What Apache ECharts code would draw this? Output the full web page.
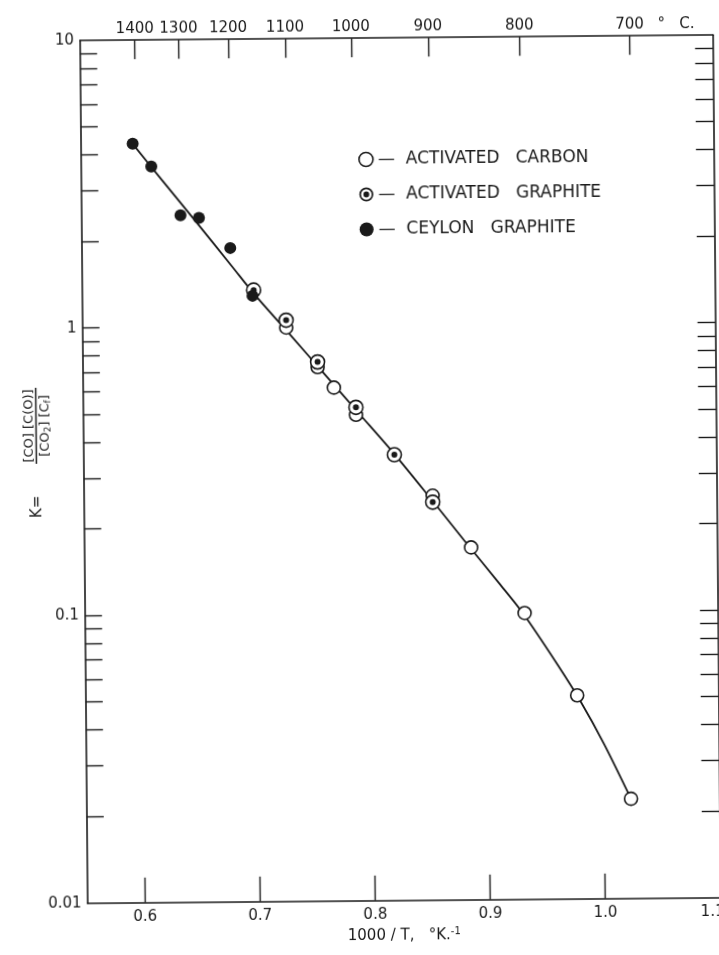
<!DOCTYPE html>
<html>
<head>
<meta charset="utf-8">
<script src="https://cdn.jsdelivr.net/npm/echarts@6/dist/echarts.min.js"></script>
<style>
html,body{margin:0;padding:0;background:#fff;overflow:hidden;}
#chart{width:719px;height:955px;transform:rotate(-0.5deg);transform-origin:50% 50%;}
</style>
</head>
<body>
<div id="chart"></div>
<script>
// ---- data ----
const activatedCarbonX = [0.727, 0.754, 0.768, 0.787, 0.853, 0.886, 0.932, 0.977, 1.023];
const activatedCarbonK = [0.99, 0.72, 0.61, 0.49, 0.255, 0.168, 0.099, 0.051, 0.0222];

const activatedGraphiteX = [0.699, 0.727, 0.754, 0.787, 0.820, 0.853];
const activatedGraphiteK = [1.34, 1.05, 0.75, 0.52, 0.355, 0.242];

const ceylonGraphiteX = [0.595, 0.611, 0.636, 0.652, 0.679, 0.698];
const ceylonGraphiteK = [4.36, 3.63, 2.45, 2.40, 1.88, 1.28];

// drawn fit curve
const fitLineX = [0.595, 0.62, 0.65, 0.68, 0.70, 0.73, 0.76, 0.79, 0.82, 0.85, 0.88, 0.91, 0.93, 0.96, 0.98, 1.00, 1.023];
const fitLineK = [4.36, 3.26, 2.31, 1.63, 1.29, 0.938, 0.68, 0.493, 0.357, 0.253, 0.178, 0.126, 0.0995, 0.0655, 0.0485, 0.0345, 0.0222];

// tick labels
const bottomTickValues = [0.6, 0.7, 0.8, 0.9, 1.0, 1.1];
const topTempLabelsC = [1400, 1300, 1200, 1100, 1000, 900, 800, 700];
const kLabelValues = [0.01, 0.1, 1, 10];
const kTickValues = [0.02, 0.03, 0.04, 0.05, 0.06, 0.07, 0.08, 0.09, 0.1,
                     0.2, 0.3, 0.4, 0.5, 0.6, 0.7, 0.8, 0.9, 1,
                     2, 3, 4, 5, 6, 7, 8, 9];

// ---- chart ----
const ink = '#1a1a1a';
const FONT = 'DejaVu Sans';
const pair = (xs, ys) => xs.map((x, i) => [x, ys[i]]);
const topTickPos = topTempLabelsC.map(t => 1000 / (t + 273.15));
const graphiteIcon = 'path://M-7,0A7,7,0,1,1,7,0A7,7,0,1,1,-7,0Z M-5.3,0A5.3,5.3,0,1,0,5.3,0A5.3,5.3,0,1,0,-5.3,0Z M-2.9,0A2.9,2.9,0,1,1,2.9,0A2.9,2.9,0,1,1,-2.9,0Z';

const chart = echarts.init(document.getElementById('chart'), null, {renderer: 'canvas'});

const frameLine = {show: true, onZero: false, lineStyle: {color: ink, width: 1.6}};
const tickLine = {color: ink, width: 1.4};

const option = {
  backgroundColor: '#fff',
  animation: false,
  grid: {left: 83.8, top: 38.2, width: 633, height: 862.5, containLabel: false, outerBoundsMode: 'none'},
  legend: {
    orient: 'vertical', left: 356, top: 146,
    itemWidth: 14, itemHeight: 14, itemGap: 18,
    selectedMode: false,
    textStyle: {fontFamily: FONT, fontSize: 17, color: ink, lineHeight: 17},
    formatter: n => '\u2014  ' + n.split(' ').join('   '),
    data: [
      {name: 'ACTIVATED CARBON', icon: 'circle', itemStyle: {color: '#fff', borderColor: ink, borderWidth: 1.6}},
      {name: 'ACTIVATED GRAPHITE', icon: graphiteIcon, itemStyle: {color: ink, borderWidth: 0}},
      {name: 'CEYLON GRAPHITE', icon: 'circle', itemStyle: {color: ink, borderWidth: 0}}
    ]
  },
  xAxis: [
    {
      type: 'value', position: 'bottom', min: 0.55, max: 1.1,
      axisLine: frameLine,
      axisTick: {show: true, inside: true, length: 25, customValues: bottomTickValues, lineStyle: tickLine},
      axisLabel: {
        customValues: bottomTickValues, margin: 7, color: ink, fontFamily: FONT, fontSize: 15,
        formatter: v => v > 1.05 ? '{r|' + v.toFixed(1) + '}' : v.toFixed(1),
        rich: {r: {fontFamily: FONT, fontSize: 15, color: ink, padding: [0, 16, 0, 0]}}
      },
      splitLine: {show: false},
      name: '1000 / T,   \u00B0K.{sup|-1}',
      nameLocation: 'middle', nameGap: 18,
      nameTextStyle: {
        fontFamily: FONT, fontSize: 15, color: ink, lineHeight: 18,
        rich: {sup: {fontFamily: FONT, fontSize: 10, color: ink, verticalAlign: 'top', lineHeight: 18}}
      }
    },
    {
      type: 'value', position: 'top', min: 0.55, max: 1.1,
      axisLine: frameLine,
      axisTick: {show: true, inside: true, length: 19, customValues: topTickPos, lineStyle: tickLine},
      axisLabel: {
        customValues: topTickPos, margin: 4, color: ink, fontFamily: FONT, fontSize: 15,
        formatter: v => {
          const t = Math.round(1000 / v - 273.15);
          return t === 700 ? '{pad| }' + t + '{unit|   \u00B0   C.}' : String(t);
        },
        rich: {
          pad: {width: 50, fontSize: 15},
          unit: {width: 50, fontFamily: FONT, fontSize: 15, color: ink, align: 'left'}
        }
      },
      splitLine: {show: false}
    }
  ],
  yAxis: [
    {
      type: 'log', logBase: 10, min: 0.01, max: 10, position: 'left',
      axisLine: frameLine,
      axisTick: {show: true, inside: true, length: 17, customValues: kTickValues, lineStyle: tickLine},
      axisLabel: {
        customValues: kLabelValues, margin: 6, color: ink, fontFamily: FONT, fontSize: 15,
        formatter: v => String(Number(v.toPrecision(2)))
      },
      splitLine: {show: false}
    },
    {
      type: 'log', logBase: 10, min: 0.01, max: 10, position: 'right',
      axisLine: frameLine,
      axisTick: {show: true, inside: true, length: 18, customValues: kTickValues, lineStyle: tickLine},
      axisLabel: {show: false},
      splitLine: {show: false}
    }
  ],
  graphic: [{
    type: 'group', x: 36.5, y: 423, rotation: Math.PI / 2,
    children: [
      {type: 'text', x: -81, y: 1, style: {text: 'K=', fill: ink, fontFamily: FONT, fontSize: 15,
        align: 'center', verticalAlign: 'middle', textAlign: 'center', textVerticalAlign: 'middle'}},
      {type: 'text', x: 0, y: -7, style: {text: '[CO] [C(O)]', fill: ink, fontFamily: FONT, fontSize: 13,
        align: 'center', verticalAlign: 'middle', textAlign: 'center', textVerticalAlign: 'middle'}},
      {type: 'line', shape: {x1: -38, y1: 0, x2: 38, y2: 0}, style: {stroke: ink, lineWidth: 1.5}},
      {type: 'text', x: 0, y: 9, style: {
        text: '[CO{sub|2}] [C{sub|f}]', fill: ink, fontFamily: FONT, fontSize: 13, lineHeight: 16,
        align: 'center', verticalAlign: 'middle', textAlign: 'center', textVerticalAlign: 'middle',
        rich: {sub: {fontFamily: FONT, fontSize: 9, fill: ink, verticalAlign: 'bottom', lineHeight: 16}}
      }}
    ]
  }],
  series: [
    {
      type: 'line', name: 'fit', data: pair(fitLineX, fitLineK),
      smooth: 0.3, symbol: 'none', silent: true, z: 1,
      lineStyle: {color: ink, width: 1.8}
    },
    {
      type: 'scatter', name: 'ACTIVATED CARBON', data: pair(activatedCarbonX, activatedCarbonK),
      symbol: 'circle', symbolSize: 13, z: 2,
      itemStyle: {color: '#fff', borderColor: ink, borderWidth: 1.6, opacity: 1}
    },
    {
      type: 'scatter', name: 'ACTIVATED GRAPHITE', data: pair(activatedGraphiteX, activatedGraphiteK),
      symbol: 'circle', symbolSize: 14, z: 3,
      itemStyle: {color: '#fff', borderColor: ink, borderWidth: 1.6, opacity: 1}
    },
    {
      type: 'scatter', name: 'graphite core', data: pair(activatedGraphiteX, activatedGraphiteK),
      symbol: 'circle', symbolSize: 6, z: 4, silent: true,
      itemStyle: {color: ink, opacity: 1}
    },
    {
      type: 'scatter', name: 'CEYLON GRAPHITE', data: pair(ceylonGraphiteX, ceylonGraphiteK),
      symbol: 'circle', symbolSize: 12, z: 5,
      itemStyle: {color: ink, opacity: 1}
    }
  ]
};
chart.setOption(option);
</script>
</body>
</html>
